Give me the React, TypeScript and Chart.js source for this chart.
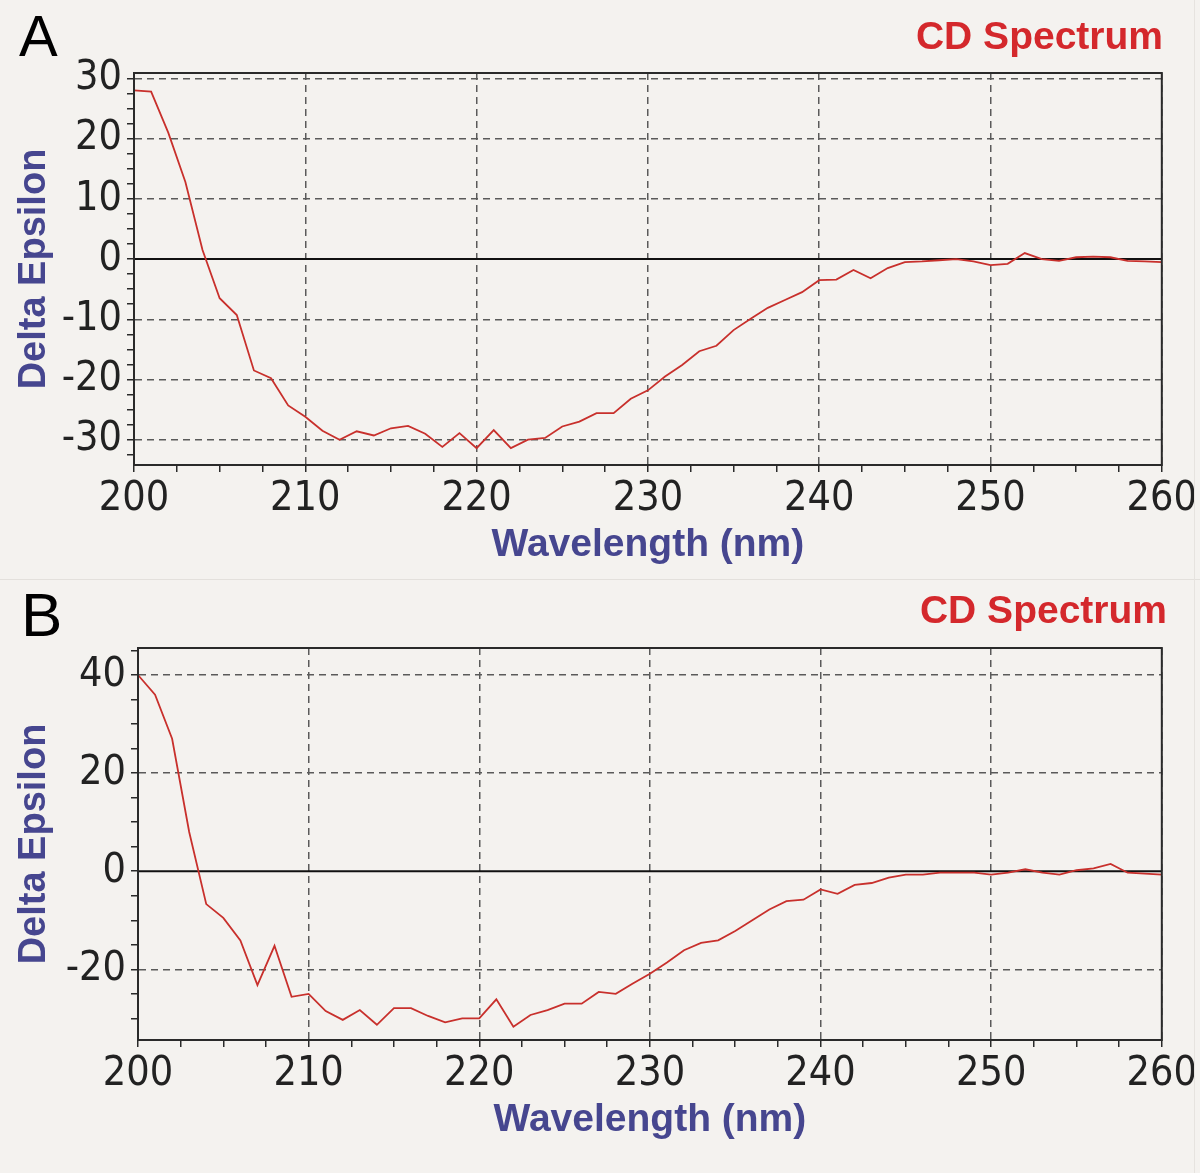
import React, { useEffect, useRef } from 'react';
import { Chart, registerables } from 'chart.js';

Chart.register(...registerables);

// ---------- data ----------
const wavelengths = [
  200, 201, 202, 203, 204, 205, 206, 207, 208, 209,
  210, 211, 212, 213, 214, 215, 216, 217, 218, 219,
  220, 221, 222, 223, 224, 225, 226, 227, 228, 229,
  230, 231, 232, 233, 234, 235, 236, 237, 238, 239,
  240, 241, 242, 243, 244, 245, 246, 247, 248, 249,
  250, 251, 252, 253, 254, 255, 256, 257, 258, 259, 260,
];

const deltaEpsilonA = [
  28.0, 27.8, 21.0, 12.8, 1.5, -6.5, -9.3, -18.5, -19.8, -24.3,
  -26.2, -28.5, -30.0, -28.6, -29.3, -28.1, -27.7, -29.0, -31.2, -28.9,
  -31.4, -28.4, -31.4, -30.0, -29.7, -27.8, -27.0, -25.6, -25.6, -23.2,
  -21.8, -19.5, -17.6, -15.3, -14.4, -11.8, -9.9, -8.1, -6.8, -5.5,
  -3.5, -3.4, -1.8, -3.2, -1.5, -0.5, -0.4, -0.2, 0.0, -0.4,
  -1.0, -0.8, 1.0, 0.0, -0.3, 0.3, 0.4, 0.3, -0.3, -0.4, -0.5,
];

const deltaEpsilonB = [
  40.0, 36.0, 27.0, 8.0, -6.7, -9.5, -14.1, -23.2, -15.2, -25.6,
  -25.0, -28.5, -30.3, -28.3, -31.3, -27.9, -27.9, -29.5, -30.8, -30.0,
  -30.0, -26.1, -31.7, -29.3, -28.3, -27.0, -27.0, -24.6, -25.0, -22.9,
  -20.9, -18.6, -16.1, -14.6, -14.1, -12.2, -10.0, -7.8, -6.1, -5.8,
  -3.7, -4.6, -2.8, -2.4, -1.3, -0.7, -0.7, -0.3, -0.3, -0.3,
  -0.7, -0.3, 0.4, -0.3, -0.7, 0.2, 0.6, 1.5, -0.3, -0.5, -0.7,
];

const xTickLabels = [200, 210, 220, 230, 240, 250, 260];
const yTickLabelsA = [-30, -20, -10, 0, 10, 20, 30];
const yTickLabelsB = [-20, 0, 20, 40];

const chartTitle = 'CD Spectrum';
const xTitle = 'Wavelength (nm)';
const yTitle = 'Delta Epsilon';
const panelLetters = ['A', 'B'];

// ---------- style / layout ----------
const BG = '#f4f2ef';
const TICK_FONT =
  "'Liberation Sans Narrow', 'Arial Narrow', 'DejaVu Sans Condensed', 'Roboto Condensed', 'Liberation Sans', Arial, sans-serif";
const TITLE_FONT = "'Liberation Sans', Arial, sans-serif";
const AXIS_TITLE_COLOR = '#46468f';
const LINE_COLOR = '#c8302c';
const FRAME_COLOR = '#2a2a2a';

type PanelSpec = {
  values: number[];
  yLabels: number[];
  yMin: number;
  yMax: number;
  yMinor: number;
  height: number;
  plotLeft: number;
  plotRight: number;
  plotBottom: number;
  titlePadTop: number;
  titlePadBottom: number;
  xTitlePadBottom: number;
};

const framePlugin = {
  id: 'cdFrame',
  beforeDatasetsDraw(chart: any) {
    const { ctx, chartArea } = chart;
    const y0 = chart.scales.y.getPixelForValue(0);
    ctx.save();
    ctx.strokeStyle = '#111';
    ctx.lineWidth = 2;
    ctx.beginPath();
    ctx.moveTo(chartArea.left, y0);
    ctx.lineTo(chartArea.right, y0);
    ctx.stroke();
    ctx.restore();
  },
  afterDraw(chart: any) {
    const { ctx, chartArea } = chart;
    ctx.save();
    ctx.strokeStyle = FRAME_COLOR;
    ctx.lineWidth = 2;
    ctx.strokeRect(chartArea.left, chartArea.top, chartArea.right - chartArea.left, chartArea.bottom - chartArea.top);
    ctx.restore();
  },
};

function near(v: number, list: number[]) {
  return list.some((t) => Math.abs(t - v) < 1e-6);
}

function Panel({ spec }: { spec: PanelSpec }) {
  const ref = useRef<HTMLCanvasElement | null>(null);
  useEffect(() => {
    const canvas = ref.current;
    if (!canvas) return;
    const points = wavelengths.map((w, i) => ({ x: w, y: spec.values[i] }));
    const chart = new Chart(canvas, {
      type: 'line',
      data: {
        datasets: [
          {
            data: points,
            borderColor: LINE_COLOR,
            borderWidth: 1.8,
            pointRadius: 0,
            tension: 0,
            fill: false,
          },
        ],
      },
      options: {
        animation: false,
        responsive: false,
        devicePixelRatio: 1,
        layout: { padding: { left: 0, right: 1200 - spec.plotRight, top: 0, bottom: 0 } },
        plugins: {
          legend: { display: false },
          tooltip: { enabled: false },
          title: {
            display: true,
            text: chartTitle,
            align: 'end',
            color: '#d4282c',
            font: { family: TITLE_FONT, size: 39, weight: 'bold', lineHeight: 1.2 },
            padding: { top: spec.titlePadTop, bottom: spec.titlePadBottom },
          },
        },
        scales: {
          x: {
            type: 'linear',
            min: xTickLabels[0],
            max: xTickLabels[xTickLabels.length - 1],
            afterFit: (s: any) => {
              s.height = spec.height - spec.plotBottom;
            },
            afterBuildTicks: (s: any) => {
              const t: any[] = [];
              for (let v = s.min; v <= s.max + 1e-6; v += 2.5) t.push({ value: v });
              s.ticks = t;
            },
            ticks: {
              autoSkip: false,
              maxRotation: 0,
              color: '#222',
              padding: 3,
              font: { family: TICK_FONT, size: 41 },
              callback: (v: any) => (near(Number(v), xTickLabels) ? String(v) : ''),
            },
            grid: {
              color: (c: any) => (c.tick && near(c.tick.value, xTickLabels) ? '#5a5a5a' : 'rgba(0,0,0,0)'),
              tickColor: FRAME_COLOR,
              tickLength: 7,
              lineWidth: 1.5,
              tickWidth: 1.5,
            },
            border: { display: true, color: FRAME_COLOR, width: 2, dash: [7, 5] },
            title: {
              display: true,
              text: xTitle,
              color: AXIS_TITLE_COLOR,
              font: { family: TITLE_FONT, size: 39, weight: 'bold', lineHeight: 1.2 },
              padding: { top: 0, bottom: spec.xTitlePadBottom },
            },
          },
          y: {
            type: 'linear',
            min: spec.yMin,
            max: spec.yMax,
            afterFit: (s: any) => {
              s.width = spec.plotLeft;
            },
            afterBuildTicks: (s: any) => {
              const t: any[] = [];
              const start = Math.ceil(s.min / spec.yMinor) * spec.yMinor;
              for (let v = start; v <= s.max + 1e-6; v += spec.yMinor) t.push({ value: v });
              s.ticks = t;
            },
            ticks: {
              autoSkip: false,
              color: '#222',
              padding: 5,
              font: { family: TICK_FONT, size: 41 },
              callback: (v: any) => (near(Number(v), spec.yLabels) ? String(v) : ''),
            },
            grid: {
              color: (c: any) =>
                c.tick && near(c.tick.value, spec.yLabels) && Math.abs(c.tick.value) > 1e-6 ? '#5a5a5a' : 'rgba(0,0,0,0)',
              tickColor: FRAME_COLOR,
              tickLength: 7,
              lineWidth: 1.5,
              tickWidth: 1.5,
            },
            border: { display: true, color: FRAME_COLOR, width: 2, dash: [7, 5] },
            title: {
              display: true,
              text: yTitle,
              color: AXIS_TITLE_COLOR,
              font: { family: TITLE_FONT, size: 38, weight: 'bold', lineHeight: 1.2 },
              padding: { top: 12, bottom: 0 },
            },
          },
        },
      },
      plugins: [framePlugin],
    } as any);
    return () => chart.destroy();
  }, [spec]);
  return <canvas ref={ref} width={1200} height={spec.height} style={{ display: 'block', width: 1200, height: spec.height }} />;
}

const panelA: PanelSpec = {
  values: deltaEpsilonA,
  yLabels: yTickLabelsA,
  yMin: -34.2,
  yMax: 30.9,
  yMinor: 2.5,
  height: 579,
  plotLeft: 134,
  plotRight: 1163,
  plotBottom: 465,
  titlePadTop: 14.6,
  titlePadBottom: 11.6,
  xTitlePadBottom: 10.6,
};

const panelB: PanelSpec = {
  values: deltaEpsilonB,
  yLabels: yTickLabelsB,
  yMin: -34.4,
  yMax: 45.5,
  yMinor: 5,
  height: 594,
  plotLeft: 138,
  plotRight: 1167,
  plotBottom: 460,
  titlePadTop: 8.6,
  titlePadBottom: 12.6,
  xTitlePadBottom: 30.6,
};

export default function App() {
  return (
    <div style={{ position: 'absolute', left: 0, top: 0, width: 1200, height: 1173, background: BG, overflow: 'hidden' }}>
      <div style={{ position: 'absolute', left: 0, top: 0 }}>
        <Panel spec={panelA} />
      </div>
      <div style={{ position: 'absolute', left: 0, top: 579, width: 1200, height: 1, background: '#e3e0dc' }} />
      <div style={{ position: 'absolute', left: 0, top: 580 }}>
        <Panel spec={panelB} />
      </div>
      <div style={{ position: 'absolute', left: 1194, top: 0, width: 1, height: 1173, background: '#e6e3df' }} />
      <div style={{ position: 'absolute', left: 19, top: 7, fontFamily: TITLE_FONT, fontSize: 58, lineHeight: 1, color: '#000' }}>
        {panelLetters[0]}
      </div>
      <div style={{ position: 'absolute', left: 21, top: 584, fontFamily: TITLE_FONT, fontSize: 62, lineHeight: 1, color: '#000' }}>
        {panelLetters[1]}
      </div>
    </div>
  );
}
